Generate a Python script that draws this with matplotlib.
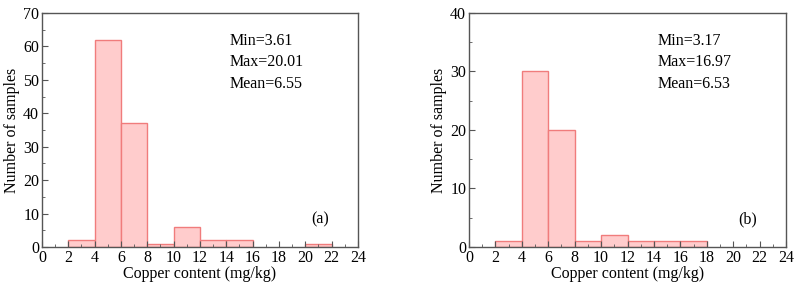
import matplotlib.pyplot as plt
import numpy as np
from matplotlib.ticker import MultipleLocator

plt.rcParams['font.family'] = ['Liberation Serif', 'DejaVu Serif']

# Histogram bin edges (mg/kg) and counts
bin_edges = [2, 4, 6, 8, 10, 12, 14, 16, 18, 20, 22]
counts_a = [2, 62, 37, 1, 6, 2, 2, 0, 0, 1]
counts_b = [1, 30, 20, 1, 2, 1, 1, 1, 0, 0]

stats_a = {'Min': '3.61', 'Max': '20.01', 'Mean': '6.55'}
stats_b = {'Min': '3.17', 'Max': '16.97', 'Mean': '6.53'}

face = '#FFCCCC'
edge = '#F07C7C'
spine = '#555555'

fig = plt.figure(figsize=(7.98, 2.87), dpi=100)
ax_a = fig.add_axes([0.0526, 0.1394, 0.396, 0.8153])
ax_b = fig.add_axes([0.5877, 0.1394, 0.3973, 0.8153])


def draw_panel(ax, counts, stats, tag, ymax):
    left = np.array(bin_edges[:-1])
    widths = np.diff(bin_edges)
    heights = np.array(counts)
    keep = heights > 0
    ax.bar(left[keep], heights[keep], width=widths[keep], align='edge',
           color=face, edgecolor=edge, linewidth=1.0)

    ax.set_xlim(0, 24)
    ax.set_ylim(0, ymax)
    ax.xaxis.set_major_locator(MultipleLocator(2))
    ax.xaxis.set_minor_locator(MultipleLocator(1))
    ax.yaxis.set_major_locator(MultipleLocator(10))
    ax.yaxis.set_minor_locator(MultipleLocator(5))
    ax.tick_params(which='both', direction='in', top=False, right=False,
                   labelsize=11.5, color=spine, pad=2)
    ax.tick_params(which='major', length=4)
    ax.tick_params(which='minor', length=2)
    for s in ax.spines.values():
        s.set_color(spine)
        s.set_linewidth(1.0)

    ax.set_xlabel('Copper content (mg/kg)', fontsize=11.5, labelpad=0)
    ax.set_ylabel('Number of samples', fontsize=11.5, labelpad=2)

    text = '\n'.join(f'{k}={v}' for k, v in stats.items())
    ax.text(0.595, 0.915, text, transform=ax.transAxes, fontsize=11.5,
            va='top', ha='left', linespacing=1.45)
    ax.text(0.88, 0.12, tag, transform=ax.transAxes, fontsize=11.5,
            va='center', ha='center')


draw_panel(ax_a, counts_a, stats_a, '(a)', 70)
draw_panel(ax_b, counts_b, stats_b, '(b)', 40)

fig.savefig('out.png', dpi=100)
